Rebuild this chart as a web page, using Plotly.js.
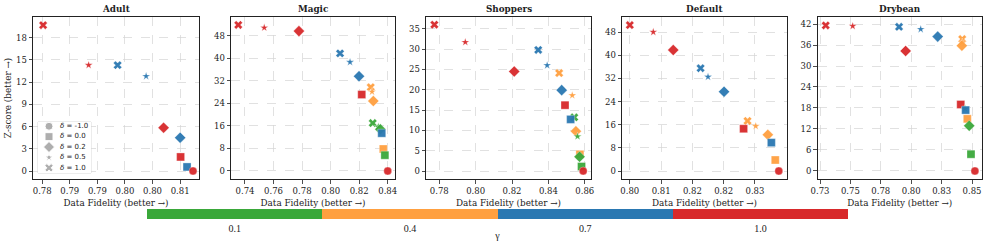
<!DOCTYPE html>
<html><head><meta charset="utf-8">
<script src="https://cdn.plot.ly/plotly-3.0.1.min.js"></script>
<style>html,body{margin:0;padding:0;background:#fff}#chart{width:996px;height:244px}</style>
</head><body><div id="chart"></div>
<script>
// ---------------- data ----------------
const datasetNames = ['Adult', 'Magic', 'Shoppers', 'Default', 'Drybean'];
const gammaLevels = [0.1, 0.4, 0.7, 1.0];
const gammaTickText = ['0.1', '0.4', '0.7', '1.0'];
const deltaLevels = [-1.0, 0.0, 0.2, 0.5, 1.0];
const deltaLabels = ['-1.0', '0.0', '0.2', '0.5', '1.0'];

const adultFidelity = [0.7802, 0.7901, 0.7964, 0.8026, 0.8064, 0.8100, 0.8101, 0.8115, 0.8128];
const adultZ        = [19.7, 14.3, 14.3, 12.8, 5.85, 4.5, 1.9, 0.55, 0.0];
const adultDelta    = [1.0, 0.5, 1.0, 0.5, 0.2, 0.2, 0.0, 0.0, -1.0];
const adultGamma    = [1.0, 1.0, 0.7, 0.7, 1.0, 0.7, 1.0, 0.7, 1.0];

const magicFidelity = [0.7353, 0.7535, 0.7778, 0.8066, 0.8136, 0.8199, 0.8281, 0.8290, 0.8218, 0.8299, 0.8295, 0.8334, 0.8348, 0.8358, 0.8369, 0.8380, 0.8400];
const magicZ        = [51.8, 50.8, 49.6, 41.7, 38.6, 33.6, 29.7, 28.1, 27.1, 24.8, 17.0, 15.7, 14.8, 13.4, 7.8, 5.6, 0.0];
const magicDelta    = [1.0, 0.5, 0.2, 1.0, 0.5, 0.2, 1.0, 0.5, 0.0, 0.2, 1.0, 0.5, 0.2, 0.0, 0.0, 0.0, -1.0];
const magicGamma    = [1.0, 1.0, 1.0, 0.7, 0.7, 0.7, 0.4, 0.4, 1.0, 0.4, 0.1, 0.1, 0.1, 0.7, 0.4, 0.1, 1.0];

const shoppersFidelity = [0.7773, 0.7943, 0.8344, 0.8393, 0.8212, 0.8459, 0.8473, 0.8531, 0.8491, 0.8542, 0.8522, 0.8551, 0.8560, 0.8573, 0.8571, 0.8582, 0.8591];
const shoppersZ        = [36.0, 31.7, 29.8, 26.0, 24.5, 24.1, 19.9, 18.6, 16.2, 13.2, 12.7, 9.8, 8.5, 4.1, 3.5, 1.1, 0.0];
const shoppersDelta    = [1.0, 0.5, 1.0, 0.5, 0.2, 1.0, 0.2, 0.5, 0.0, 1.0, 0.0, 0.2, 0.5, 0.0, 0.2, 0.0, -1.0];
const shoppersGamma    = [1.0, 1.0, 0.7, 0.7, 1.0, 0.4, 0.7, 0.4, 1.0, 0.1, 0.7, 0.4, 0.1, 0.4, 0.1, 0.1, 1.0];

const defaultFidelity = [0.8000, 0.8060, 0.8111, 0.8181, 0.8200, 0.8241, 0.8301, 0.8322, 0.8291, 0.8353, 0.8362, 0.8372, 0.8381];
const defaultZ        = [50.4, 48.0, 41.8, 35.5, 32.5, 27.4, 17.3, 15.5, 14.6, 12.5, 9.8, 3.8, 0.0];
const defaultDelta    = [1.0, 0.5, 0.2, 1.0, 0.5, 0.2, 1.0, 0.5, 0.0, 0.2, 0.0, 0.0, -1.0];
const defaultGamma    = [1.0, 1.0, 1.0, 0.7, 0.7, 0.7, 0.4, 0.4, 1.0, 0.4, 0.7, 0.4, 1.0];

const drybeanFidelity = [0.7345, 0.7558, 0.7924, 0.8095, 0.8229, 0.8423, 0.8423, 0.8420, 0.7976, 0.8411, 0.8445, 0.8450, 0.8463, 0.8478, 0.8492, 0.8523];
const drybeanZ        = [41.6, 41.4, 41.2, 40.5, 38.4, 37.7, 36.8, 35.8, 34.3, 19.0, 17.8, 17.4, 14.9, 12.9, 4.8, 0.0];
const drybeanDelta    = [1.0, 0.5, 1.0, 0.5, 0.2, 1.0, 0.5, 0.2, 0.2, 0.0, 0.5, 0.0, 0.0, 0.2, 0.0, -1.0];
const drybeanGamma    = [1.0, 1.0, 0.7, 0.7, 0.7, 0.4, 0.4, 0.4, 1.0, 1.0, 0.1, 0.7, 0.4, 0.1, 0.1, 1.0];

// tick labels (as printed in the figure)
const adultXTicks    = [0.780, 0.786, 0.792, 0.798, 0.804, 0.810];
const adultXTickText = ['0.78', '0.79', '0.79', '0.80', '0.80', '0.81'];
const magicXTicks    = [0.74, 0.76, 0.78, 0.80, 0.82, 0.84];
const magicXTickText = ['0.74', '0.76', '0.78', '0.80', '0.82', '0.84'];
const shoppersXTicks    = [0.78, 0.80, 0.82, 0.84, 0.86];
const shoppersXTickText = ['0.78', '0.80', '0.82', '0.84', '0.86'];
const defaultXTicks    = [0.800, 0.808, 0.816, 0.824, 0.832];
const defaultXTickText = ['0.80', '0.81', '0.82', '0.82', '0.83'];
const drybeanXTicks    = [0.730, 0.754, 0.778, 0.802, 0.826, 0.850];
const drybeanXTickText = ['0.73', '0.75', '0.78', '0.80', '0.83', '0.85'];
const yTickSteps = [3, 8, 5, 8, 6];

// ---------------- styling / layout ----------------
const W = 996, H = 244;
const M = {l: 33, r: 14, t: 17, b: 65, autoexpand: false};
const PW = W - M.l - M.r, PH = H - M.t - M.b;
const px2fx = p => (p - M.l) / PW;

const panelPx = [[33, 199], [231, 395], [426, 591], [622, 787], [817.5, 982]];
const xRanges = [[0.7780, 0.8141], [0.7302, 0.8451], [0.7727, 0.8634], [0.7980, 0.8402], [0.7280, 0.8579]];
const yRanges = [[-1.08, 20.8], [-2.84, 54.6], [-1.97, 37.9], [-2.76, 53.2], [-2.29, 44.0]];

const fidelity = [adultFidelity, magicFidelity, shoppersFidelity, defaultFidelity, drybeanFidelity];
const zscore = [adultZ, magicZ, shoppersZ, defaultZ, drybeanZ];
const deltas = [adultDelta, magicDelta, shoppersDelta, defaultDelta, drybeanDelta];
const gammas = [adultGamma, magicGamma, shoppersGamma, defaultGamma, drybeanGamma];
const xTicks = [adultXTicks, magicXTicks, shoppersXTicks, defaultXTicks, drybeanXTicks];
const xTickText = [adultXTickText, magicXTickText, shoppersXTickText, defaultXTickText, drybeanXTickText];

const symbolByDelta = {'-1': 'circle', '0': 'square', '0.2': 'diamond', '0.5': 'star', '1': 'x'};
const sizeByDelta   = {'-1': 8, '0': 8, '0.2': 8.5, '0.5': 6, '1': 7.5};

const gammaColors = ['#3aa83a', '#ffa040', '#2a78b2', '#d8292b'];
const gStep = gammaLevels[1] - gammaLevels[0];
const colorscale = [];
gammaColors.forEach((c, i) => { colorscale.push([i / 4, c]); colorscale.push([(i + 1) / 4, c]); });

const SERIF = 'DejaVu Serif, serif';
const INK = '#222';

const traces = [];
const layout = {
  width: W, height: H, margin: M,
  paper_bgcolor: '#fff', plot_bgcolor: '#fff',
  showlegend: false,
  font: {family: SERIF, size: 8.5, color: INK},
  annotations: [], shapes: []
};

datasetNames.forEach((name, i) => {
  const n = i + 1;
  const xa = 'xaxis' + (n === 1 ? '' : n), ya = 'yaxis' + (n === 1 ? '' : n);
  const xr = 'x' + (n === 1 ? '' : n), yr = 'y' + (n === 1 ? '' : n);
  const common = {
    showline: true, linecolor: INK, linewidth: 1, mirror: true,
    ticks: 'outside', ticklen: 3.5, tickwidth: 0.8, tickcolor: INK,
    showgrid: true, gridcolor: '#d4d4d4', gridwidth: 0.7, griddash: 'dash',
    zeroline: false, automargin: false,
    tickfont: {family: SERIF, size: 8.5, color: INK}
  };
  layout[xa] = Object.assign({}, common, {
    domain: [px2fx(panelPx[i][0]), px2fx(panelPx[i][1])],
    range: xRanges[i], anchor: yr,
    tickmode: 'array', tickvals: xTicks[i], ticktext: xTickText[i],
    title: {text: 'Data Fidelity (better →)', font: {family: SERIF, size: 8.8, color: INK}, standoff: 5}
  });
  layout[ya] = Object.assign({}, common, {
    domain: [0, 1], range: yRanges[i], anchor: xr,
    tick0: 0, dtick: yTickSteps[i]
  });
  if (n === 1) {
    layout[ya].title = {text: 'Z-score (better →)', font: {family: SERIF, size: 8.8, color: INK}, standoff: 2};
  }
  layout.annotations.push({
    text: '<b>' + name + '</b>', xref: 'paper', yref: 'paper',
    x: (px2fx(panelPx[i][0]) + px2fx(panelPx[i][1])) / 2, y: 1 + 8 / PH,
    xanchor: 'center', yanchor: 'middle', showarrow: false,
    font: {family: SERIF, size: 8.8, color: INK}
  });
  const tr = {
    type: 'scatter', mode: 'markers', x: fidelity[i], y: zscore[i],
    xaxis: xr, yaxis: yr, hoverinfo: 'skip', showlegend: false,
    marker: {
      symbol: deltas[i].map(d => symbolByDelta[String(d)]),
      size: deltas[i].map(d => sizeByDelta[String(d)]),
      color: gammas[i], colorscale: colorscale,
      cmin: gammaLevels[0] - gStep / 2, cmax: gammaLevels[gammaLevels.length - 1] + gStep / 2,
      opacity: 0.95,
      line: {color: 'rgba(255,255,255,0.8)', width: 0.4},
      showscale: n === 1
    }
  };
  if (n === 1) {
    tr.marker.colorbar = {
      orientation: 'h', x: px2fx(497.5), xanchor: 'center',
      y: (M.t + PH - 209) / PH, yanchor: 'top',
      len: 701 / PW, lenmode: 'fraction', thickness: 10, thicknessmode: 'pixels',
      xpad: 0, ypad: 0, outlinewidth: 0,
      tickmode: 'array', tickvals: gammaLevels, ticktext: gammaTickText, ticks: '', ticklen: 0,
      tickfont: {family: 'Liberation Serif, serif', size: 10, color: INK},
      title: {text: 'γ', side: 'bottom', font: {family: 'Liberation Serif, serif', size: 10, color: INK}}
    };
  }
  traces.push(tr);
});

// legend (δ → marker shape), drawn in a small overlay axis inside the Adult panel
const legX = [38, 91], legY = [122, 173];
layout.xaxis6 = {domain: [px2fx(legX[0]), px2fx(legX[1])], range: [0, legX[1] - legX[0]], visible: false, fixedrange: true, anchor: 'y6'};
layout.yaxis6 = {domain: [(M.t + PH - legY[1]) / PH, (M.t + PH - legY[0]) / PH], range: [4.5, -0.41], visible: false, fixedrange: true, anchor: 'x6'};
layout.shapes.push({type: 'rect', xref: 'x6 domain', yref: 'y6 domain', x0: 0, x1: 1, y0: 0, y1: 1,
  fillcolor: 'rgba(255,255,255,0.9)', line: {color: '#cfcfcf', width: 0.8}, layer: 'below'});
const legIdx = deltaLevels.map((d, k) => k);
traces.push({
  type: 'scatter', mode: 'markers', xaxis: 'x6', yaxis: 'y6', hoverinfo: 'skip', showlegend: false,
  x: legIdx.map(() => 11), y: legIdx,
  marker: {symbol: deltaLevels.map(d => symbolByDelta[String(d)]), size: deltaLevels.map(d => sizeByDelta[String(d)]), color: '#8c8c8c'}
});
traces.push({
  type: 'scatter', mode: 'text', xaxis: 'x6', yaxis: 'y6', hoverinfo: 'skip', showlegend: false,
  x: legIdx.map(() => 22), y: legIdx,
  text: deltaLabels.map(s => '<i>δ</i> = ' + s), textposition: 'middle right',
  textfont: {family: 'DejaVu Sans, sans-serif', size: 7, color: INK}
});

Plotly.newPlot('chart', traces, layout, {staticPlot: true, displayModeBar: false});
</script>
</body></html>
